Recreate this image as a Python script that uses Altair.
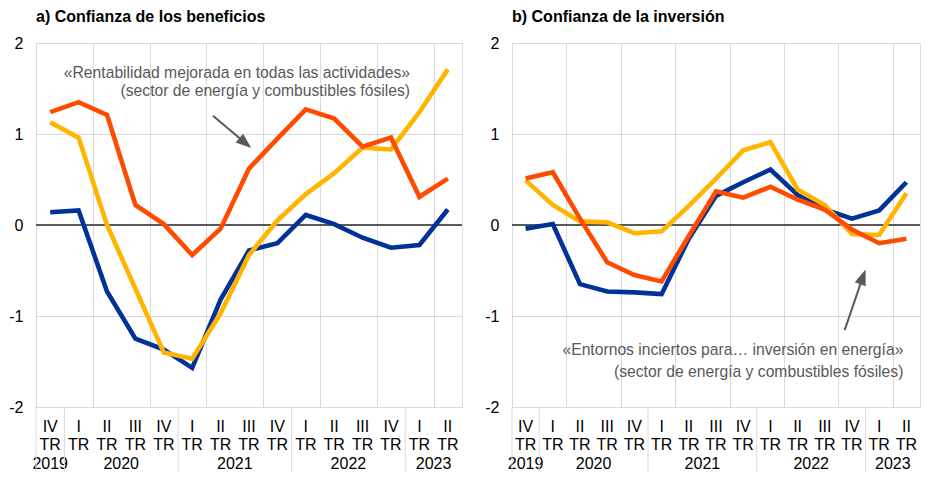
import altair as alt
import pandas as pd

FONT = "Liberation Sans"

quarters = ["IV", "I", "II", "III", "IV", "I", "II", "III", "IV", "I", "II", "III", "IV", "I", "II"]
years = ["2019", "2020", "2021", "2022", "2023"]
year_start = [0, 1, 5, 9, 13]
year_end = [1, 5, 9, 13, 15]

series_names = ["Serie azul", "Serie amarilla", "Serie naranja"]
series_colors = ["#003299", "#FFB400", "#FF4B00"]

# a) Confianza de los beneficios
blue_a = [0.14, 0.16, -0.73, -1.25, -1.37, -1.57, -0.82, -0.28, -0.20, 0.11, 0.01, -0.14, -0.25, -0.22, 0.17]
yellow_a = [1.13, 0.96, 0.00, -0.70, -1.40, -1.47, -0.97, -0.33, 0.05, 0.34, 0.57, 0.85, 0.83, 1.24, 1.71]
orange_a = [1.24, 1.35, 1.21, 0.22, 0.01, -0.33, -0.04, 0.62, 0.95, 1.27, 1.17, 0.86, 0.96, 0.31, 0.51]

# b) Confianza de la inversión
blue_b = [-0.04, 0.01, -0.65, -0.73, -0.74, -0.76, -0.15, 0.32, 0.47, 0.61, 0.33, 0.17, 0.07, 0.16, 0.47]
yellow_b = [0.49, 0.22, 0.04, 0.03, -0.09, -0.07, 0.21, 0.51, 0.82, 0.91, 0.39, 0.22, -0.10, -0.11, 0.35]
orange_b = [0.51, 0.58, 0.07, -0.41, -0.55, -0.62, -0.12, 0.37, 0.30, 0.42, 0.28, 0.17, -0.05, -0.20, -0.15]

titles = ["a) Confianza de los beneficios", "b) Confianza de la inversión"]

ann_a_lines = ["«Rentabilidad mejorada en todas las actividades»", "(sector de energía y combustibles fósiles)"]
ann_a_x = [13.17, 13.17]
ann_a_y = [1.67, 1.47]
arrow_a_x = [6.23, 7.37]
arrow_a_y = [1.20, 0.90]
arrow_a_angle = 130

ann_b_lines = ["«Entornos inciertos para… inversión en energía»", "(sector de energía y combustibles fósiles)"]
ann_b_x = [14.39, 14.39]
ann_b_y = [-1.375, -1.61]
arrow_b_x = [12.23, 12.90]
arrow_b_y = [-1.155, -0.57]
arrow_b_angle = 20

H = 364
GRID = "#d9d9d9"
FS = 16


def panel(title, width, vals, ann_lines, ann_x, ann_y, arr_x, arr_y, arr_angle):
    xs = [i + 0.5 for i in range(len(quarters))]
    xscale = alt.Scale(domain=[0, 15], nice=False, zero=False)
    yscale = alt.Scale(domain=[-2, 2], nice=False)

    base_df = pd.DataFrame({"x": xs, "v": vals[0]})
    frame = alt.Chart(base_df).mark_line(opacity=0).encode(
        x=alt.X("x:Q", scale=xscale,
                axis=alt.Axis(values=list(range(16)), grid=True, gridColor=GRID, gridWidth=1,
                              labels=False, ticks=False, domain=False, title=None)),
        y=alt.Y("v:Q", scale=yscale,
                axis=alt.Axis(values=[-2, -1, 0, 1, 2], grid=True, gridColor=GRID, gridWidth=1,
                              domain=False, ticks=False, labelFontSize=FS, labelFont=FONT,
                              labelColor="#000000", labelPadding=13, title=None,
                              labelExpr="datum.value < 0 ? '-' + abs(datum.value) : '' + datum.value")),
    )

    zero = alt.Chart(pd.DataFrame({"z": [0]})).mark_rule(color="#595959", strokeWidth=2).encode(
        y=alt.Y("z:Q", scale=yscale)
    )

    layers = [frame, zero]
    for name, col, v in zip(series_names, series_colors, vals):
        df = pd.DataFrame({"x": xs, "v": v, "serie": name})
        layers.append(
            alt.Chart(df).mark_line(color=col, strokeWidth=4.6, strokeJoin="miter").encode(
                x=alt.X("x:Q", scale=xscale), y=alt.Y("v:Q", scale=yscale)
            )
        )

    qdf = pd.DataFrame({"x": xs, "t": [q + "\nTR" for q in quarters]})
    layers.append(
        alt.Chart(qdf).mark_text(lineBreak="\n", lineHeight=18, baseline="top", fontSize=FS,
                                 font=FONT, color="#000000").encode(
            x=alt.X("x:Q", scale=xscale), y=alt.value(H + 12), text="t:N")
    )
    ydf = pd.DataFrame({"x": [(a + b) / 2 for a, b in zip(year_start, year_end)], "t": years})
    layers.append(
        alt.Chart(ydf).mark_text(baseline="middle", fontSize=FS, font=FONT, color="#000000").encode(
            x=alt.X("x:Q", scale=xscale), y=alt.value(H + 57), text="t:N")
    )
    sdf = pd.DataFrame({"x": year_start})
    layers.append(
        alt.Chart(sdf).mark_rule(color=GRID, strokeWidth=1).encode(
            x=alt.X("x:Q", scale=xscale), y=alt.value(H), y2=alt.value(H + 65))
    )

    adf = pd.DataFrame({"x": ann_x, "y": ann_y, "t": ann_lines})
    layers.append(
        alt.Chart(adf).mark_text(align="right", baseline="middle", fontSize=15.7, font=FONT,
                                 color="#595959").encode(
            x=alt.X("x:Q", scale=xscale), y=alt.Y("y:Q", scale=yscale), text="t:N")
    )
    ardf = pd.DataFrame({"x": arr_x, "y": arr_y, "o": [0, 1]})
    layers.append(
        alt.Chart(ardf).mark_line(color="#595959", strokeWidth=2).encode(
            x=alt.X("x:Q", scale=xscale), y=alt.Y("y:Q", scale=yscale), order="o:Q")
    )
    hdf = pd.DataFrame({"x": [arr_x[1]], "y": [arr_y[1]]})
    layers.append(
        alt.Chart(hdf).mark_point(shape="M0,-1L0.75,1L-0.75,1Z", filled=True, size=240,
                                  color="#595959", opacity=1, angle=arr_angle).encode(
            x=alt.X("x:Q", scale=xscale), y=alt.Y("y:Q", scale=yscale))
    )

    return alt.layer(*layers).properties(
        width=width, height=H,
        title=alt.TitleParams(title, anchor="start", frame="group", fontSize=FS, fontWeight="bold",
                              font=FONT, color="#000000", offset=10),
    )


pa = panel(titles[0], 426, [blue_a, yellow_a, orange_a], ann_a_lines, ann_a_x, ann_a_y,
           arrow_a_x, arrow_a_y, arrow_a_angle)
pb = panel(titles[1], 408, [blue_b, yellow_b, orange_b], ann_b_lines, ann_b_x, ann_b_y,
           arrow_b_x, arrow_b_y, arrow_b_angle)

chart = alt.hconcat(pa, pb, spacing=20).properties(
    padding={"left": 0, "top": 0, "right": 0, "bottom": 0}
).configure_view(stroke=None).configure(background="#ffffff")

chart.save("out.html", embed_options={"renderer": "svg", "actions": False})
